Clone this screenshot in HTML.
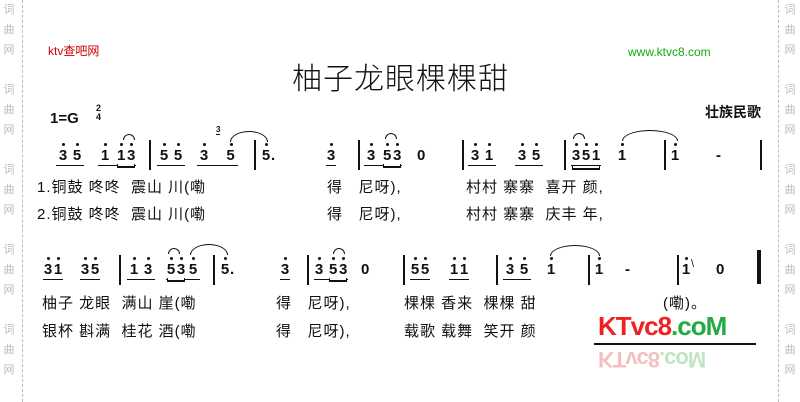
<!DOCTYPE html>
<html><head><meta charset="utf-8"><style>
body{margin:0;width:800px;height:402px;background:#fff;position:relative;overflow:hidden;font-family:"Liberation Sans","Noto Sans CJK SC",sans-serif;color:#111}
.a{position:absolute;white-space:nowrap}
.wm{position:absolute;color:#bbb;font-size:11px;line-height:20px;width:14px;text-align:center}
.dl{position:absolute;top:0;height:402px;border-left:1px dashed #bbb}
.n{position:absolute;font-weight:bold;font-size:15px;line-height:16px;white-space:nowrap}
.n i{font-style:normal;position:relative;display:inline-block;width:10px;text-align:center}
.n i.w{width:14px}
.n i.h::before{content:"";position:absolute;left:4px;top:-5px;width:3px;height:3px;background:#111;border-radius:50%}
.n i.w.h::before{left:6px}
.u{border-bottom:1.5px solid #111;padding-bottom:1px;display:inline-block}
.uu{box-shadow:0 4px 0 -2px #fff,0 5px 0 -1px #111}
.bar{position:absolute;width:1.5px;background:#111;height:30px}
.ly{position:absolute;font-size:15px;letter-spacing:1px;white-space:pre}
.arc{position:absolute;border:1.5px solid #111;border-bottom:none;border-radius:50% 50% 0 0/100% 100% 0 0}
</style></head><body>
<div class="dl" style="left:22px"></div><div class="dl" style="left:778px"></div>
<div class="wm" style="left:2px;top:0">词<br>曲<br>网<br><br>词<br>曲<br>网<br><br>词<br>曲<br>网<br><br>词<br>曲<br>网<br><br>词<br>曲<br>网</div>
<div class="wm" style="left:783px;top:0">词<br>曲<br>网<br><br>词<br>曲<br>网<br><br>词<br>曲<br>网<br><br>词<br>曲<br>网<br><br>词<br>曲<br>网</div>
<div class="a" style="left:48px;top:42px;color:#c00;font-size:12px">ktv查吧网</div>
<div class="a" style="left:628px;top:45px;color:#1a1;font-size:12px">www.ktvc8.com</div>
<div class="a" style="left:292px;top:54px;font-size:30px;letter-spacing:1px;font-family:'Noto Sans CJK SC',sans-serif;font-weight:300">柚子龙眼棵棵甜</div>
<div class="a" style="left:50px;top:110px;font-size:15px;font-weight:bold">1=G</div>
<div class="a" style="left:96px;top:104px;font-size:9px;font-weight:bold;line-height:9px;text-align:center">2<br>4</div>
<div class="a" style="left:705px;top:102px;font-size:14px;font-weight:bold">壮族民歌</div>

<!-- row 1 -->
<div class="n" style="left:56px;top:148px"><span class="u"><i class="w h">3</i><i class="w h">5</i></span></div>
<div class="n" style="left:98px;top:148px"><span class="u"><i class="w h">1</i>&nbsp;<span class="uu"><i class="h">1</i><i class="h">3</i></span></span></div>
<div class="arc" style="left:123px;top:134px;width:10px;height:5px"></div>
<div class="bar" style="left:149px;top:140px"></div>
<div class="n" style="left:157px;top:148px"><span class="u"><i class="w h">5</i><i class="w h">5</i></span></div>
<div class="n" style="left:197px;top:148px"><span class="u"><i class="w h">3</i>&nbsp;&nbsp;&nbsp;<i class="w h">5</i></span></div>
<div class="a" style="left:216px;top:126px;font-size:8px;font-weight:bold;line-height:8px;border-bottom:1px solid #111">3</div>
<div class="arc" style="left:230px;top:131px;width:36px;height:10px"></div>
<div class="bar" style="left:254px;top:140px"></div>
<div class="n" style="left:261px;top:148px"><i class="h">5</i>.</div>
<div class="n" style="left:326px;top:148px"><span class="u"><i class="h">3</i></span></div>
<div class="bar" style="left:358px;top:140px"></div>
<div class="n" style="left:364px;top:148px"><span class="u"><i class="w h">3</i>&nbsp;<span class="uu"><i class="h">5</i><i class="h">3</i></span></span></div>
<div class="arc" style="left:385px;top:133px;width:10px;height:5px"></div>
<div class="n" style="left:417px;top:148px">0</div>
<div class="bar" style="left:462px;top:140px"></div>
<div class="n" style="left:468px;top:148px"><span class="u"><i class="w h">3</i><i class="w h">1</i></span></div>
<div class="n" style="left:515px;top:148px"><span class="u"><i class="w h">3</i><i class="w h">5</i></span></div>
<div class="bar" style="left:564px;top:140px"></div>
<div class="n" style="left:571px;top:148px"><span class="u uu"><i class="h">3</i><i class="h">5</i><i class="h">1</i></span></div>
<div class="n" style="left:617px;top:148px"><i class="h">1</i></div>
<div class="arc" style="left:573px;top:133px;width:10px;height:5px"></div>
<div class="arc" style="left:622px;top:130px;width:54px;height:10px"></div>
<div class="bar" style="left:664px;top:140px"></div>
<div class="n" style="left:670px;top:148px"><i class="h">1</i></div>
<div class="n" style="left:716px;top:148px">-</div>
<div class="bar" style="left:760px;top:140px"></div>
<div class="ly" style="left:37px;top:176px">1.铜鼓 咚咚  震山 川(嘞</div>
<div class="ly" style="left:37px;top:203px">2.铜鼓 咚咚  震山 川(嘞</div>
<div class="ly" style="left:327px;top:176px">得   尼呀),</div>
<div class="ly" style="left:327px;top:203px">得   尼呀),</div>
<div class="ly" style="left:466px;top:176px">村村 寨寨  喜开 颜,</div>
<div class="ly" style="left:466px;top:203px">村村 寨寨  庆丰 年,</div>

<!-- row 2 -->
<div class="n" style="left:43px;top:262px"><span class="u"><i class="h">3</i><i class="h">1</i></span></div>
<div class="n" style="left:80px;top:262px"><span class="u"><i class="h">3</i><i class="h">5</i></span></div>
<div class="bar" style="left:119px;top:255px"></div>
<div class="n" style="left:127px;top:262px"><span class="u"><i class="w h">1</i><i class="w h">3</i></span></div>
<div class="n" style="left:166px;top:262px"><span class="u"><span class="uu"><i class="h">5</i><i class="h">3</i></span><i class="w h">5</i></span></div>
<div class="arc" style="left:168px;top:248px;width:10px;height:5px"></div>
<div class="arc" style="left:190px;top:244px;width:36px;height:10px"></div>
<div class="bar" style="left:213px;top:255px"></div>
<div class="n" style="left:220px;top:262px"><i class="h">5</i>.</div>
<div class="n" style="left:280px;top:262px"><span class="u"><i class="h">3</i></span></div>
<div class="bar" style="left:307px;top:255px"></div>
<div class="n" style="left:314px;top:262px"><span class="u"><i class="h">3</i>&nbsp;<span class="uu"><i class="h">5</i><i class="h">3</i></span></span></div>
<div class="arc" style="left:333px;top:248px;width:10px;height:5px"></div>
<div class="n" style="left:361px;top:262px">0</div>
<div class="bar" style="left:403px;top:255px"></div>
<div class="n" style="left:410px;top:262px"><span class="u"><i class="h">5</i><i class="h">5</i></span></div>
<div class="n" style="left:449px;top:262px"><span class="u"><i class="h">1</i><i class="h">1</i></span></div>
<div class="bar" style="left:496px;top:255px"></div>
<div class="n" style="left:503px;top:262px"><span class="u"><i class="w h">3</i><i class="w h">5</i></span></div>
<div class="n" style="left:546px;top:262px"><i class="h">1</i></div>
<div class="arc" style="left:550px;top:245px;width:48px;height:10px"></div>
<div class="bar" style="left:588px;top:255px"></div>
<div class="n" style="left:594px;top:262px"><i class="h">1</i></div>
<div class="n" style="left:625px;top:262px">-</div>
<div class="bar" style="left:677px;top:255px"></div>
<div class="n" style="left:681px;top:262px"><i class="h">1</i><span style="font-weight:normal;font-size:11px;position:relative;top:-7px">\</span></div>
<div class="n" style="left:716px;top:262px">0</div>
<div class="bar" style="left:757px;top:250px;width:4px;height:34px"></div>
<div class="ly" style="left:42px;top:292px">柚子 龙眼  满山 崖(嘞</div>
<div class="ly" style="left:42px;top:320px">银杯 斟满  桂花 酒(嘞</div>
<div class="ly" style="left:276px;top:292px">得   尼呀),</div>
<div class="ly" style="left:276px;top:320px">得   尼呀),</div>
<div class="ly" style="left:404px;top:292px">棵棵 香来  棵棵 甜</div>
<div class="ly" style="left:404px;top:320px">载歌 载舞  笑开 颜</div>
<div class="ly" style="left:663px;top:292px">(嘞)。</div>
<div class="a" style="left:598px;top:311px;font-size:26px;font-weight:bold;color:#e22;letter-spacing:-1px">KTvc8<span style="color:#2a4">.coM</span></div>
<div class="a" style="left:594px;top:343px;width:162px;height:2px;background:#111"></div>
<div class="a" style="left:598px;top:346px;font-size:22px;font-weight:bold;color:#f3c0c0;transform:scaleY(-1);letter-spacing:-1px">KTvc8<span style="color:#bfe5c5">.coM</span></div>
</body></html>
